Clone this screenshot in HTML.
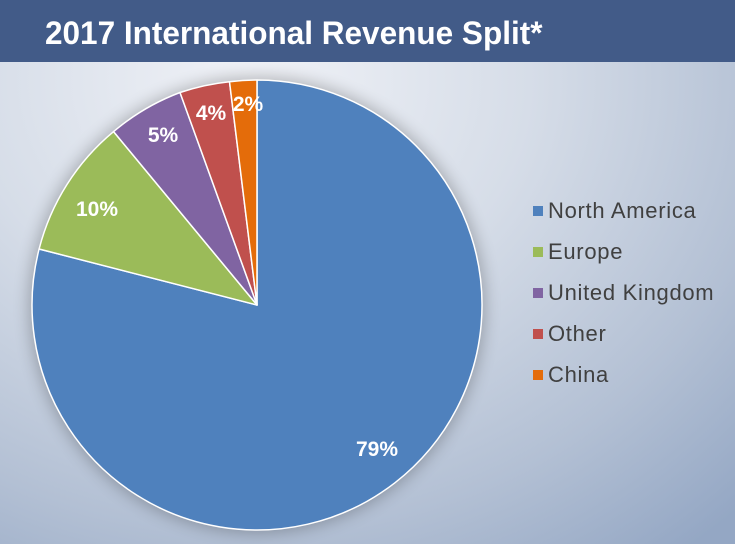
<!DOCTYPE html>
<html><head><style>
html,body{margin:0;padding:0}
body{width:735px;height:544px;overflow:hidden;position:relative;font-family:"Liberation Sans",sans-serif;
background:radial-gradient(ellipse 700px 600px at 250px 80px,#f0f2f7 0%,#d6dde8 40%,#b3c0d4 75%,#94a7c4 100%);}
.bar{position:absolute;left:0;top:0;width:735px;height:62px;background:#425b88;}
.title{position:absolute;left:45px;top:15px;color:#fff;font-weight:bold;font-size:32px;line-height:36px;white-space:nowrap;transform:scaleX(0.985);transform-origin:left top;}
.leg{position:absolute;left:533px;font-size:22px;letter-spacing:0.7px;color:#404040;white-space:nowrap;}
.leg span{display:inline-block;width:10px;height:10px;margin-right:5px;vertical-align:2px;}
</style></head><body>
<div class="bar"></div>
<div class="title">2017 International Revenue Split*</div>
<svg width="735" height="544" style="position:absolute;left:0;top:0">
<defs><filter id="sh" x="-20%" y="-20%" width="140%" height="140%"><feGaussianBlur stdDeviation="8"/></filter></defs>
<circle cx="257" cy="305" r="228" fill="#000" opacity="0.25" filter="url(#sh)"/>
<g stroke="#fff" stroke-width="1.5" stroke-linejoin="round">
<path d="M257,305 L257,80 A225,225 0 1 1 39.1,249 Z" fill="#4f81bd"/>
<path d="M257,305 L39.1,249 A225,225 0 0 1 113.6,131.6 Z" fill="#9bbb59"/>
<path d="M257,305 L113.6,131.6 A225,225 0 0 1 180,92.5 Z" fill="#8064a2"/>
<path d="M257,305 L180,92.5 A225,225 0 0 1 229.5,81.7 Z" fill="#c0504d"/>
<path d="M257,305 L229.5,81.7 A225,225 0 0 1 257,80 Z" fill="#e46c0a"/>
</g>
<g fill="#fff" font-weight="bold" font-size="21" text-anchor="middle" font-family="Liberation Sans,sans-serif">
<text x="377" y="456">79%</text>
<text x="97" y="216">10%</text>
<text x="163" y="142">5%</text>
<text x="211" y="120">4%</text>
<text x="248" y="111">2%</text>
</g>
</svg>
<div class="leg" style="top:198px"><span style="background:#4f81bd"></span>North America</div>
<div class="leg" style="top:239px"><span style="background:#9bbb59"></span>Europe</div>
<div class="leg" style="top:280px"><span style="background:#8064a2"></span>United Kingdom</div>
<div class="leg" style="top:321px"><span style="background:#c0504d"></span>Other</div>
<div class="leg" style="top:362px"><span style="background:#e46c0a"></span>China</div>
</body></html>
